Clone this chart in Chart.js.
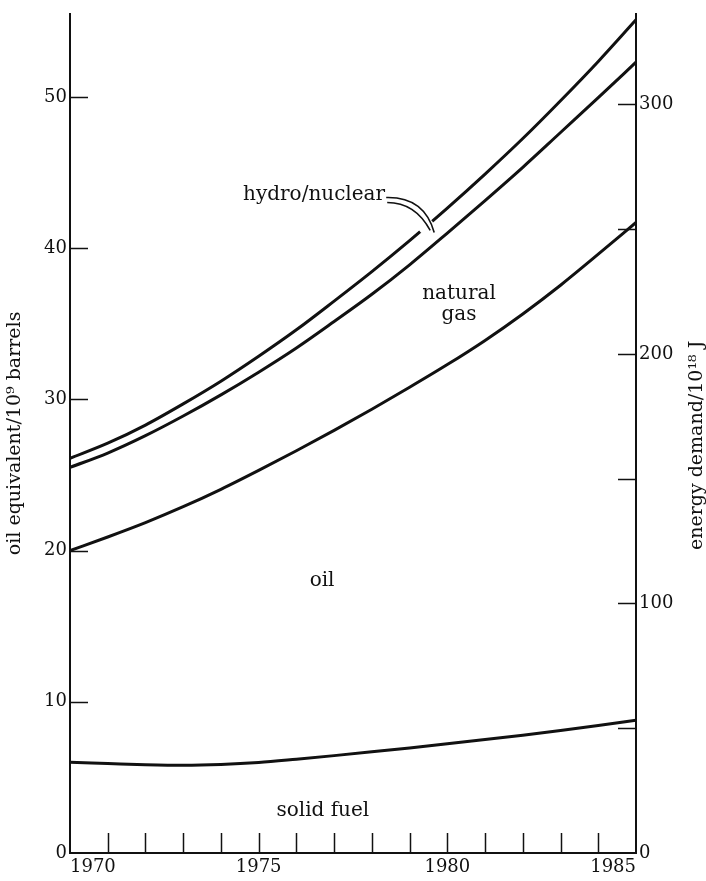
<!DOCTYPE html>
<html lang="en">
<head>
<meta charset="UTF-8">
<title>Energy demand</title>
<script src="https://cdn.jsdelivr.net/npm/chart.js"></script>
<style>
  body { margin: 0; background: #fff; }
  #c { display: block; }
</style>
</head>
<body>
<canvas id="c" width="706" height="881"></canvas>
<script>
// top edge of each band, 10^9 barrels oil equivalent
const years = [1970, 1971, 1972, 1973, 1974, 1975, 1976, 1977, 1978, 1979, 1980, 1981, 1982, 1983, 1984, 1985];
const solidFuelTop = [6.0, 5.92, 5.84, 5.80, 5.85, 5.98, 6.20, 6.44, 6.69, 6.95, 7.22, 7.50, 7.79, 8.10, 8.43, 8.78];
const oilTop = [20.0, 20.9, 21.85, 22.9, 24.05, 25.3, 26.6, 27.95, 29.35, 30.8, 32.3, 33.9, 35.65, 37.55, 39.6, 41.7];
const naturalGasTop = [25.5, 26.45, 27.6, 28.9, 30.3, 31.8, 33.4, 35.15, 36.95, 38.9, 41.0, 43.15, 45.35, 47.65, 49.95, 52.3];
const hydroNuclearTop = [26.1, 27.1, 28.3, 29.7, 31.2, 32.85, 34.6, 36.5, 38.45, 40.5, 42.65, 44.9, 47.25, 49.75, 52.35, 55.1];

const yearLabels = [1970, 1975, 1980, 1985];
const leftTicks = [0, 10, 20, 30, 40, 50];
const rightTicks = [0, 50, 100, 150, 200, 250, 300];
const rightLabels = [0, 100, 200, 300];

const INK = '#111';
const SERIF = '"DejaVu Serif", "Liberation Serif", serif';
const GAP_YEAR = 1979.44;   // where the pointer breaks the top line

function pts(vals) {
    return vals.map((v, i) => ({ x: years[i], y: v }));
}

function lineSet(label, vals) {
    return {
        label: label,
        data: pts(vals),
        borderColor: INK,
        borderWidth: 3,
        pointRadius: 0,
        fill: false,
        cubicInterpolationMode: 'monotone',
        yAxisID: 'y'
    };
}

function gapCentre(chart) {
    const line = chart.getDatasetMeta(0).dataset;
    const x = chart.scales.x.getPixelForValue(GAP_YEAR);
    const p = line.interpolate({ x: x }, 'x');
    return p ? { x: p.x, y: p.y } : { x: x, y: chart.scales.y.getPixelForValue(41.3) };
}

const decor = {
    id: 'decor',
    beforeDatasetDraw(chart, args) {
        if (args.index !== 0) return;
        const c = gapCentre(chart);
        const ctx = chart.ctx;
        ctx.save();
        ctx.beginPath();
        ctx.rect(0, 0, chart.width, chart.height);
        ctx.arc(c.x, c.y, 8, 0, Math.PI * 2);
        ctx.clip('evenodd');
    },
    afterDatasetDraw(chart, args) {
        if (args.index !== 0) return;
        chart.ctx.restore();
    },
    afterDatasetsDraw(chart) {
        const ctx = chart.ctx;
        const xs = chart.scales.x, ys = chart.scales.y, yr = chart.scales.y2;
        const a = chart.chartArea;
        ctx.save();

        // inward tick marks
        ctx.strokeStyle = INK;
        ctx.lineWidth = 1.5;
        ctx.beginPath();
        leftTicks.forEach(v => {
            if (v === 0) return;
            const y = Math.round(ys.getPixelForValue(v)) + 0.5;
            ctx.moveTo(a.left, y); ctx.lineTo(a.left + 18, y);
        });
        rightTicks.forEach(v => {
            if (v === 0) return;
            const y = Math.round(yr.getPixelForValue(v)) + 0.5;
            ctx.moveTo(a.right, y); ctx.lineTo(a.right - 18, y);
        });
        for (let yv = years[0] + 1; yv < years[years.length - 1]; yv++) {
            const x = Math.round(xs.getPixelForValue(yv)) + 0.5;
            ctx.moveTo(x, a.bottom); ctx.lineTo(x, a.bottom - 20);
        }
        ctx.stroke();

        // double pointer from the hydro/nuclear label into the break
        const g = gapCentre(chart);
        ctx.lineWidth = 1.6;
        ctx.beginPath();
        ctx.moveTo(g.x - 40, g.y - 29);
        ctx.quadraticCurveTo(g.x - 2, g.y - 30, g.x + 8, g.y + 6);
        ctx.moveTo(g.x - 39, g.y - 24);
        ctx.quadraticCurveTo(g.x - 11, g.y - 24, g.x + 4, g.y + 4);
        ctx.stroke();

        // band labels
        ctx.fillStyle = INK;
        ctx.font = '20px ' + SERIF;
        ctx.textBaseline = 'middle';
        const put = (txt, x, y, align) => {
            ctx.textAlign = align;
            ctx.fillText(txt, xs.getPixelForValue(x), ys.getPixelForValue(y));
        };
        put('hydro/nuclear', 1978.35, 43.5, 'right');
        put('natural', 1980.31, 37.0, 'center');
        put('gas', 1980.31, 35.6, 'center');
        put('oil', 1976.68, 18.0, 'center');
        put('solid fuel', 1976.7, 2.8, 'center');

        // right axis title, reading upwards like the left one
        ctx.font = '19px ' + SERIF;
        ctx.translate(697, (a.top + a.bottom) / 2 + 12);
        ctx.rotate(-Math.PI / 2);
        ctx.textAlign = 'center';
        ctx.fillText('energy demand/10¹⁸ J', 0, 0);
        ctx.restore();
    }
};

new Chart(document.getElementById('c'), {
    type: 'line',
    data: {
        datasets: [
            lineSet('hydro/nuclear', hydroNuclearTop),
            lineSet('natural gas', naturalGasTop),
            lineSet('oil', oilTop),
            lineSet('solid fuel', solidFuelTop)
        ]
    },
    options: {
        responsive: false,
        animation: false,
        layout: { padding: { top: 13 } },
        plugins: {
            legend: { display: false },
            tooltip: { enabled: false }
        },
        scales: {
            x: {
                type: 'linear',
                min: years[0],
                max: years[years.length - 1],
                afterFit(s) { s.height = 28; },
                grid: { display: false, drawTicks: false },
                border: { display: true, color: INK, width: 2 },
                afterBuildTicks(s) { s.ticks = yearLabels.map(v => ({ value: v })); },
                ticks: {
                    align: 'inner',
                    padding: 4,
                    color: INK,
                    font: { family: SERIF, size: 18 },
                    callback: v => String(v)
                }
            },
            y: {
                position: 'left',
                min: 0,
                max: 55.5,
                afterFit(s) { s.width = 70; },
                grid: { display: false, drawTicks: false },
                border: { display: true, color: INK, width: 2 },
                afterBuildTicks(s) { s.ticks = leftTicks.map(v => ({ value: v })); },
                ticks: {
                    padding: 3,
                    color: INK,
                    font: { family: SERIF, size: 18 }
                },
                title: {
                    display: true,
                    text: 'oil equivalent/10⁹ barrels',
                    color: INK,
                    font: { family: SERIF, size: 19 },
                    padding: { top: 4, bottom: 0 }
                }
            },
            y2: {
                position: 'right',
                min: 0,
                max: 55.5 * 6.06,
                afterFit(s) { s.width = 70; },
                grid: { display: false, drawTicks: false },
                border: { display: true, color: INK, width: 2 },
                afterBuildTicks(s) { s.ticks = rightLabels.map(v => ({ value: v })); },
                ticks: {
                    padding: 3,
                    color: INK,
                    font: { family: SERIF, size: 18 }
                }
            }
        }
    },
    plugins: [decor]
});
</script>
</body>
</html>
